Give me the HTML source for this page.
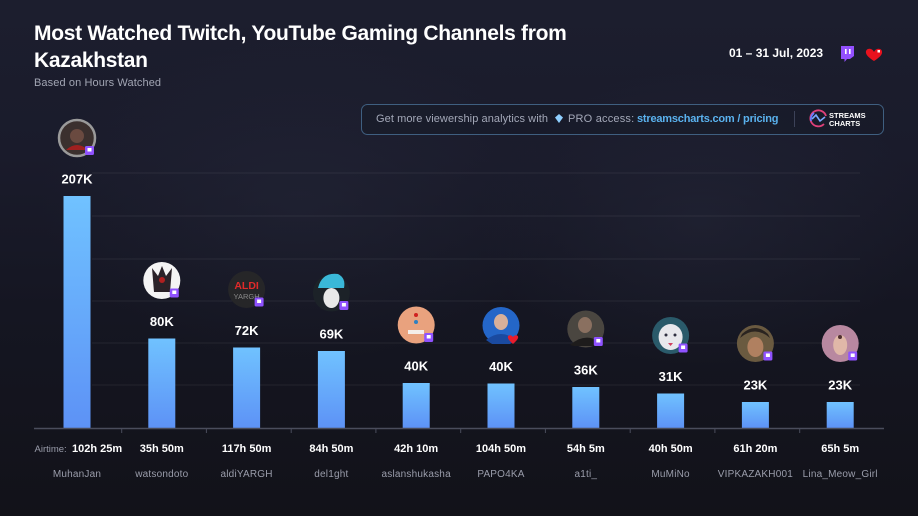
<!DOCTYPE html>
<html><head><meta charset="utf-8"><style>
html,body{margin:0;padding:0;}
body{width:918px;height:516px;overflow:hidden;position:relative;font-family:"Liberation Sans",sans-serif;
background:linear-gradient(180deg,#1c1e2e 0%,#1a1b2b 30%,#151622 60%,#121219 100%);}
.t{position:absolute;white-space:nowrap;}
</style></head><body>
<svg width="918" height="516" style="position:absolute;left:0;top:0" xmlns="http://www.w3.org/2000/svg">
<defs>
<linearGradient id="bg" x1="0" y1="0" x2="0" y2="1">
<stop offset="0" stop-color="#70c2ff"/><stop offset="1" stop-color="#5d92f6"/>
</linearGradient>
<radialGradient id="glow" cx="0.5" cy="0.5" r="0.5">
<stop offset="0" stop-color="#2a2d40" stop-opacity="0.35"/><stop offset="1" stop-color="#2a2d40" stop-opacity="0"/>
</radialGradient>
</defs>
<ellipse cx="300" cy="200" rx="260" ry="160" fill="url(#glow)"/>
<ellipse cx="700" cy="220" rx="220" ry="150" fill="url(#glow)"/>
<!-- gridlines -->
<g stroke="#ffffff" stroke-opacity="0.07" stroke-width="1">
<line x1="92" y1="173" x2="860" y2="173"/>
<line x1="92" y1="216" x2="860" y2="216"/>
<line x1="92" y1="259" x2="860" y2="259"/>
<line x1="92" y1="301" x2="860" y2="301"/>
<line x1="92" y1="343" x2="860" y2="343"/>
<line x1="92" y1="385" x2="860" y2="385"/>
</g>
<!-- bars -->
<g fill="url(#bg)">
<rect x="63.5" y="196" width="27" height="232"/>
<rect x="148.3" y="338.5" width="27" height="89.5"/>
<rect x="233.1" y="347.5" width="27" height="80.5"/>
<rect x="317.9" y="351" width="27" height="77"/>
<rect x="402.7" y="383" width="27" height="45"/>
<rect x="487.5" y="383.5" width="27" height="44.5"/>
<rect x="572.3" y="387" width="27" height="41"/>
<rect x="657.1" y="393.5" width="27" height="34.5"/>
<rect x="741.9" y="402" width="27" height="26"/>
<rect x="826.7" y="402" width="27" height="26"/>
</g>
<!-- axis -->
<line x1="34" y1="428.5" x2="884" y2="428.5" stroke="#4a4d5c" stroke-width="1.5"/>
<g stroke="#4a4d5c" stroke-width="1">
<line x1="121.7" y1="428" x2="121.7" y2="433"/>
<line x1="206.4" y1="428" x2="206.4" y2="433"/>
<line x1="291.2" y1="428" x2="291.2" y2="433"/>
<line x1="375.9" y1="428" x2="375.9" y2="433"/>
<line x1="460.7" y1="428" x2="460.7" y2="433"/>
<line x1="545.4" y1="428" x2="545.4" y2="433"/>
<line x1="630.2" y1="428" x2="630.2" y2="433"/>
<line x1="714.9" y1="428" x2="714.9" y2="433"/>
<line x1="799.7" y1="428" x2="799.7" y2="433"/>
</g>
<!-- value labels -->
<g fill="#ffffff" font-family="Liberation Sans, sans-serif" font-weight="bold" font-size="13" text-anchor="middle">
<text x="77" y="183.5">207K</text>
<text x="161.8" y="326">80K</text>
<text x="246.6" y="335">72K</text>
<text x="331.4" y="338.5">69K</text>
<text x="416.2" y="370.5">40K</text>
<text x="501" y="371">40K</text>
<text x="585.8" y="374.5">36K</text>
<text x="670.6" y="381">31K</text>
<text x="755.4" y="389.5">23K</text>
<text x="840.2" y="389.5">23K</text>
</g>
<!-- avatars -->
<g>
<circle cx="77" cy="138" r="18" fill="#3b302e" stroke="#9a9a9a" stroke-width="2.5"/>
<circle cx="77" cy="136" r="7" fill="#6a4a40"/>
<path d="M66 150 Q77 140 88 150 Z" fill="#a02020"/>

<circle cx="161.8" cy="280.5" r="18.5" fill="#f4f4f4"/>
<path d="M152 268 L158 276 L162 266 L166 276 L172 268 L170 292 L154 292 Z" fill="#2a2228"/>
<circle cx="162" cy="280" r="3" fill="#b02020"/>

<circle cx="246.6" cy="289.5" r="18.5" fill="#262628"/>
<text x="246.6" y="289" fill="#e02a2a" font-size="10.5" font-weight="bold" text-anchor="middle" font-family="Liberation Sans, sans-serif">ALDI</text>
<text x="246.6" y="299" fill="#8a8a8a" font-size="7.5" text-anchor="middle" font-family="Liberation Sans, sans-serif">YARGH</text>

<circle cx="331.4" cy="293" r="18.5" fill="#1c2228"/>
<path d="M318 288 Q322 272 338 274 Q346 278 344 288 Z" fill="#3ab8d8"/>
<ellipse cx="331.4" cy="298" rx="8" ry="10" fill="#e8e8e8"/>

<circle cx="416.2" cy="325" r="18.5" fill="#e9a27e"/>
<circle cx="416" cy="315" r="2" fill="#d02020"/>
<circle cx="416" cy="322" r="2" fill="#3080c0"/>
<rect x="408" y="330" width="16" height="4" fill="#f4eeea"/>

<circle cx="501" cy="325.5" r="18.5" fill="#2466c8"/>
<ellipse cx="501" cy="322" rx="7" ry="8" fill="#d8b09a"/>
<path d="M486 340 Q501 328 516 340 L510 344 L492 344 Z" fill="#1a4aa0"/>

<circle cx="585.8" cy="329" r="18.5" fill="#4a4640"/>
<ellipse cx="585" cy="325" rx="7" ry="8" fill="#8a7060"/>
<path d="M570 345 Q585 332 600 342 L596 346 L574 346 Z" fill="#1e1c1c"/>

<circle cx="670.6" cy="335.5" r="18.5" fill="#2a5a6a"/>
<ellipse cx="670.6" cy="337" rx="12" ry="13" fill="#e8e8ec"/>
<circle cx="666" cy="335" r="1.5" fill="#303040"/><circle cx="675" cy="335" r="1.5" fill="#303040"/>
<path d="M668 343 L673 343 L670.6 346 Z" fill="#d04060"/>

<circle cx="755.4" cy="343.5" r="18.5" fill="#6a5a40"/>
<ellipse cx="755.4" cy="347" rx="8" ry="10" fill="#b08060"/>
<path d="M740 338 Q755 325 770 338 L768 334 Q755 322 742 334 Z" fill="#2a2420"/>

<circle cx="840.2" cy="343.5" r="18.5" fill="#b888a0"/>
<ellipse cx="840.2" cy="345" rx="7" ry="10" fill="#e0b8a8"/>
<circle cx="840" cy="337" r="2" fill="#503030"/>
</g>
<!-- twitch badges -->
<g>
<g transform="translate(85,146)"><rect width="9" height="9" rx="1.5" fill="#8f52ff"/><rect x="2.5" y="2" width="4" height="3.5" fill="#fff"/></g>
<g transform="translate(169.8,288.5)"><rect width="9" height="9" rx="1.5" fill="#8f52ff"/><rect x="2.5" y="2" width="4" height="3.5" fill="#fff"/></g>
<g transform="translate(254.6,297.5)"><rect width="9" height="9" rx="1.5" fill="#8f52ff"/><rect x="2.5" y="2" width="4" height="3.5" fill="#fff"/></g>
<g transform="translate(339.4,301)"><rect width="9" height="9" rx="1.5" fill="#8f52ff"/><rect x="2.5" y="2" width="4" height="3.5" fill="#fff"/></g>
<g transform="translate(424.2,333)"><rect width="9" height="9" rx="1.5" fill="#8f52ff"/><rect x="2.5" y="2" width="4" height="3.5" fill="#fff"/></g>
<g transform="translate(593.8,337)"><rect width="9" height="9" rx="1.5" fill="#8f52ff"/><rect x="2.5" y="2" width="4" height="3.5" fill="#fff"/></g>
<g transform="translate(678.6,343.5)"><rect width="9" height="9" rx="1.5" fill="#8f52ff"/><rect x="2.5" y="2" width="4" height="3.5" fill="#fff"/></g>
<g transform="translate(763.4,351.5)"><rect width="9" height="9" rx="1.5" fill="#8f52ff"/><rect x="2.5" y="2" width="4" height="3.5" fill="#fff"/></g>
<g transform="translate(848.2,351.5)"><rect width="9" height="9" rx="1.5" fill="#8f52ff"/><rect x="2.5" y="2" width="4" height="3.5" fill="#fff"/></g>
<path d="M513 337 C511 334 507 335 508 338 C508.5 340 511 342 513 344 C515 342 517.5 340 518 338 C519 335 515 334 513 337 Z" fill="#e81c2c"/>
</g>
<!-- promo box -->
<rect x="361.5" y="104.5" width="522" height="30" rx="6" fill="#171a28" fill-opacity="0.6" stroke="#3f5f80" stroke-width="1"/>
<line x1="794.5" y1="111" x2="794.5" y2="127" stroke="#3c4258" stroke-width="1"/>
<path d="M559 114 L563 117.5 L559 123 L555 117.5 Z" fill="#8fd0ff"/>
<!-- streams charts logo -->
<path d="M826 116 A8 8 0 1 0 824 124" fill="none" stroke="#e0407a" stroke-width="1.8"/>
<path d="M811 121 A8 8 0 0 1 814 113" fill="none" stroke="#6a7cff" stroke-width="1.8"/>
<path d="M812 119 L816 115 L820 121 L825 117" fill="none" stroke="#7aa8ff" stroke-width="1.6"/>
<!-- header icons -->
<g transform="translate(840,46)">
<path d="M1 0 L14 0 L14 10 L10 13 L7 13 L4.5 16 L4.5 13 L1 13 Z" fill="#9350ff"/>
<rect x="5" y="3" width="1.6" height="5" fill="#fff"/><rect x="9" y="3" width="1.6" height="5" fill="#fff"/>
</g>
<path d="M874 52 C872 47 865 48 866 53 C866.5 56 871 59 874 61 C877 59 881.5 56 882 53 C883 48 876 47 874 52 Z" fill="#e8121e"/>
<rect x="877.5" y="50" width="2.5" height="2.5" fill="#fff"/>
</svg>

<div class="t" style="left:34px;top:20px;font-size:21px;font-weight:bold;color:#fff;line-height:27px;letter-spacing:-0.3px;">Most Watched Twitch, YouTube Gaming Channels from<br>Kazakhstan</div>
<div class="t" style="left:34px;top:77px;font-size:11px;color:#a2a5b3;letter-spacing:0.1px;">Based on Hours Watched</div>
<div class="t" style="left:729px;top:46px;font-size:12px;font-weight:bold;color:#fff;">01 – 31 Jul, 2023</div>

<div class="t" style="left:376px;top:113px;font-size:11px;color:#a3a8b8;letter-spacing:0.08px;">Get more viewership analytics with</div>
<div class="t" style="left:568px;top:113px;font-size:11px;color:#a3a8b8;letter-spacing:0.2px;">PRO access:</div>
<div class="t" style="left:637px;top:113px;font-size:11px;font-weight:bold;color:#5ab2ee;letter-spacing:-0.2px;">streamscharts.com / pricing</div>
<div class="t" style="left:829px;top:112px;font-size:7.5px;font-weight:bold;color:#fff;line-height:7.5px;">STREAMS<br>CHARTS</div>

<div class="t" style="left:34.5px;top:444px;font-size:9.5px;color:#9a9dab;">Airtime:</div>
<div style="position:absolute;top:443px;left:0;width:918px;font-size:11px;font-weight:bold;color:#fff;">
<span class="t" style="left:72px;">102h 25m</span>
<span class="t" style="left:119.3px;width:85px;text-align:center;">35h 50m</span>
<span class="t" style="left:204.1px;width:85px;text-align:center;">117h 50m</span>
<span class="t" style="left:288.9px;width:85px;text-align:center;">84h 50m</span>
<span class="t" style="left:373.7px;width:85px;text-align:center;">42h 10m</span>
<span class="t" style="left:458.5px;width:85px;text-align:center;">104h 50m</span>
<span class="t" style="left:543.3px;width:85px;text-align:center;">54h 5m</span>
<span class="t" style="left:628.1px;width:85px;text-align:center;">40h 50m</span>
<span class="t" style="left:712.9px;width:85px;text-align:center;">61h 20m</span>
<span class="t" style="left:797.7px;width:85px;text-align:center;">65h 5m</span>
</div>
<div style="position:absolute;top:469px;left:0;width:918px;font-size:10px;color:#9a9dab;letter-spacing:0.2px;">
<span class="t" style="left:34.5px;width:85px;text-align:center;">MuhanJan</span>
<span class="t" style="left:119.3px;width:85px;text-align:center;">watsondoto</span>
<span class="t" style="left:204.1px;width:85px;text-align:center;">aldiYARGH</span>
<span class="t" style="left:288.9px;width:85px;text-align:center;">del1ght</span>
<span class="t" style="left:373.7px;width:85px;text-align:center;">aslanshukasha</span>
<span class="t" style="left:458.5px;width:85px;text-align:center;">PAPO4KA</span>
<span class="t" style="left:543.3px;width:85px;text-align:center;">a1ti_</span>
<span class="t" style="left:628.1px;width:85px;text-align:center;">MuMiNo</span>
<span class="t" style="left:712.9px;width:85px;text-align:center;">VIPKAZAKH001</span>
<span class="t" style="left:797.7px;width:85px;text-align:center;">Lina_Meow_Girl</span>
</div>
</body></html>
